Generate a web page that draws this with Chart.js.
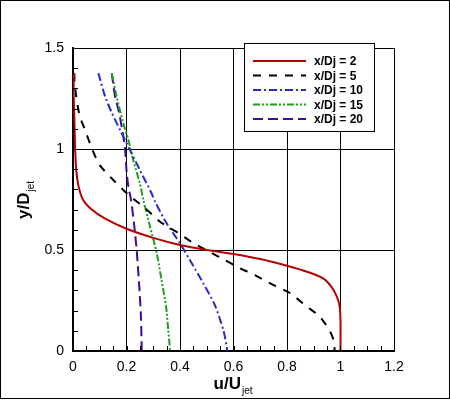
<!DOCTYPE html>
<html>
<head>
<meta charset="utf-8">
<script src="https://cdn.jsdelivr.net/npm/chart.js@4.4.1/dist/chart.umd.min.js"></script>
<style>
  html, body { margin: 0; padding: 0; background: #fff; }
  canvas { display: block; }
</style>
</head>
<body>
<canvas id="profile-chart" width="450" height="401"></canvas>
<script>
// Velocity profiles u/Ujet vs y/Djet at several downstream stations
const seriesLabels = ['x/Dj = 2', 'x/Dj = 5', 'x/Dj = 10', 'x/Dj = 15', 'x/Dj = 20'];

const u2 = [0.004, 0.002, 0.004, 0.006, 0.008, 0.012, 0.02, 0.037, 0.07, 0.12, 0.2, 0.3, 0.4, 0.5, 0.6, 0.7, 0.8, 0.88, 0.935, 0.965, 0.986, 0.997, 1.0, 1.0];
const y2 = [1.375, 1.3, 1.2, 1.1, 1.0, 0.9, 0.82, 0.75, 0.70, 0.655, 0.605, 0.56, 0.525, 0.5, 0.48, 0.455, 0.422, 0.39, 0.36, 0.32, 0.27, 0.22, 0.15, 0];

const u5 = [0.005, 0.006, 0.014, 0.026, 0.045, 0.07, 0.10, 0.157, 0.21, 0.269, 0.325, 0.388, 0.449, 0.512, 0.568, 0.624, 0.68, 0.748, 0.811, 0.874, 0.923, 0.961, 0.975, 0.978];
const y5 = [1.375, 1.33, 1.24, 1.16, 1.094, 1.005, 0.92, 0.838, 0.77, 0.708, 0.64, 0.589, 0.535, 0.49, 0.45, 0.41, 0.376, 0.327, 0.287, 0.22, 0.17, 0.096, 0.05, 0];

const u10 = [0.095, 0.12, 0.145, 0.176, 0.213, 0.25, 0.294, 0.307, 0.35, 0.4, 0.444, 0.487, 0.53, 0.562, 0.575, 0.576];
const y10 = [1.375, 1.26, 1.18, 1.094, 0.995, 0.896, 0.78, 0.739, 0.632, 0.533, 0.434, 0.335, 0.228, 0.104, 0.02, 0];

const u15 = [0.145, 0.163, 0.188, 0.207, 0.225, 0.25, 0.263, 0.288, 0.313, 0.331, 0.348, 0.356, 0.363];
const y15 = [1.375, 1.26, 1.127, 1.045, 0.946, 0.83, 0.748, 0.616, 0.484, 0.351, 0.22, 0.104, 0];

const u20 = [0.145, 0.157, 0.17, 0.182, 0.194, 0.2, 0.207, 0.217, 0.228, 0.238, 0.247, 0.254, 0.257];
const y20 = [1.375, 1.26, 1.193, 1.11, 1.01, 0.896, 0.813, 0.748, 0.632, 0.5, 0.335, 0.17, 0];

const xTickLabels = ['0', '0.2', '0.4', '0.6', '0.8', '1', '1.2'];
const yTickLabels = ['0', '0.5', '1', '1.5'];

(function() {
  const FONT = '"Liberation Sans", Arial, Helvetica, sans-serif';
  const styles = [
    { color: '#b40000', dash: [] },
    { color: '#000000', dash: [8, 8] },
    { color: '#2a2ac8', dash: [8, 3, 2, 3] },
    { color: '#1f9e1f', dash: [7, 2, 2, 2, 2, 2] },
    { color: '#3f0a96', dash: [10, 5] }
  ];
  const us = [u2, u5, u10, u15, u20];
  const ys = [y2, y5, y10, y15, y20];

  function pts(u, y) { return u.map((v, i) => ({ x: v, y: y[i] })); }
  function near(v, step) { return Math.abs(v / step - Math.round(v / step)) < 1e-6; }
  function label(v, step, list) {
    if (!near(v, step)) return '';
    return list[Math.round(v / step)] || '';
  }

  const datasets = seriesLabels.map((name, i) => ({
    label: name,
    data: pts(us[i], ys[i]),
    showLine: true,
    borderColor: styles[i].color,
    backgroundColor: styles[i].color,
    borderWidth: 2,
    borderDash: styles[i].dash,
    pointRadius: 0,
    tension: 0.25
  }));

  // inward minor ticks, axis titles with subscripts, boxed legend, outer frame
  const decor = {
    id: 'decor',
    afterDraw(chart) {
      const ctx = chart.ctx;
      const a = chart.chartArea;
      const sx = chart.scales.x, sy = chart.scales.y;
      ctx.save();
      ctx.strokeStyle = '#000';
      ctx.lineWidth = 1;
      ctx.setLineDash([]);
      ctx.beginPath();
      sx.ticks.forEach(t => {
        const px = Math.round(sx.getPixelForValue(t.value)) + 0.5;
        ctx.moveTo(px, a.bottom); ctx.lineTo(px, a.bottom - 5);
      });
      sy.ticks.forEach(t => {
        const py = Math.round(sy.getPixelForValue(t.value)) + 0.5;
        ctx.moveTo(a.left, py); ctx.lineTo(a.left + 5, py);
      });
      ctx.stroke();

      // outer frame of the picture
      ctx.strokeRect(0.5, 0.5, 449, 398);

      // x title
      ctx.fillStyle = '#000';
      ctx.textBaseline = 'alphabetic';
      ctx.textAlign = 'left';
      ctx.font = 'bold 17px ' + FONT;
      const main = 'u/U', sub = 'jet';
      const wm = ctx.measureText(main).width;
      ctx.font = '10px ' + FONT;
      const ws = ctx.measureText(sub).width;
      let x0 = 233 - (wm + ws + 1) / 2;
      ctx.font = 'bold 17px ' + FONT;
      ctx.fillText(main, x0, 389);
      ctx.font = '10px ' + FONT;
      ctx.fillText(sub, x0 + wm + 1, 394);

      // y title
      ctx.save();
      ctx.translate(29, 200);
      ctx.rotate(-Math.PI / 2);
      ctx.font = 'bold 17px ' + FONT;
      const ym = 'y/D';
      const wym = ctx.measureText(ym).width;
      ctx.font = '10px ' + FONT;
      const wys = ctx.measureText(sub).width;
      x0 = -(wym + wys + 1) / 2;
      ctx.font = 'bold 17px ' + FONT;
      ctx.fillText(ym, x0, 0);
      ctx.font = '10px ' + FONT;
      ctx.fillText(sub, x0 + wym + 1, 5);
      ctx.restore();

      // legend
      ctx.fillStyle = '#fff';
      ctx.fillRect(244.5, 43.5, 130, 88);
      ctx.strokeStyle = '#000';
      ctx.lineWidth = 1;
      ctx.strokeRect(244.5, 43.5, 130, 88);
      ctx.font = 'bold 12px ' + FONT;
      ctx.textBaseline = 'middle';
      chart.data.datasets.forEach((ds, i) => {
        const ly = 61 + i * 14.5;
        ctx.strokeStyle = ds.borderColor;
        ctx.lineWidth = 2;
        ctx.setLineDash(ds.borderDash);
        ctx.beginPath();
        ctx.moveTo(253, ly); ctx.lineTo(306, ly);
        ctx.stroke();
        ctx.setLineDash([]);
        ctx.fillStyle = '#000';
        ctx.fillText(ds.label, 314, ly + 1);
      });
      ctx.restore();
    }
  };

  new Chart(document.getElementById('profile-chart'), {
    type: 'scatter',
    data: { datasets },
    options: {
      responsive: false,
      animation: false,
      devicePixelRatio: 1,
      layout: { padding: { top: 48, right: 56, left: 0, bottom: 0 } },
      plugins: { legend: { display: false }, tooltip: { enabled: false } },
      scales: {
        x: {
          type: 'linear',
          min: 0, max: 1.2,
          afterFit: s => { s.height = 50; },
          border: { color: '#000', width: 2 },
          grid: {
            drawTicks: false,
            lineWidth: 1,
            color: c => (c.tick && near(c.tick.value, 0.2)) ? '#000' : 'rgba(0,0,0,0)'
          },
          ticks: {
            stepSize: 0.05,
            autoSkip: false,
            maxRotation: 0,
            padding: 8,
            color: '#000',
            font: { family: FONT, size: 14 },
            callback: v => label(v, 0.2, xTickLabels)
          }
        },
        y: {
          type: 'linear',
          min: 0, max: 1.5,
          afterFit: s => { s.width = 73; },
          border: { color: '#000', width: 2 },
          grid: {
            drawTicks: false,
            lineWidth: 1,
            color: c => (c.tick && near(c.tick.value, 0.5)) ? '#000' : 'rgba(0,0,0,0)'
          },
          ticks: {
            stepSize: 0.1,
            autoSkip: false,
            padding: 9,
            color: '#000',
            font: { family: FONT, size: 14 },
            callback: v => label(v, 0.5, yTickLabels)
          }
        }
      }
    },
    plugins: [decor]
  });
})();
</script>
</body>
</html>
